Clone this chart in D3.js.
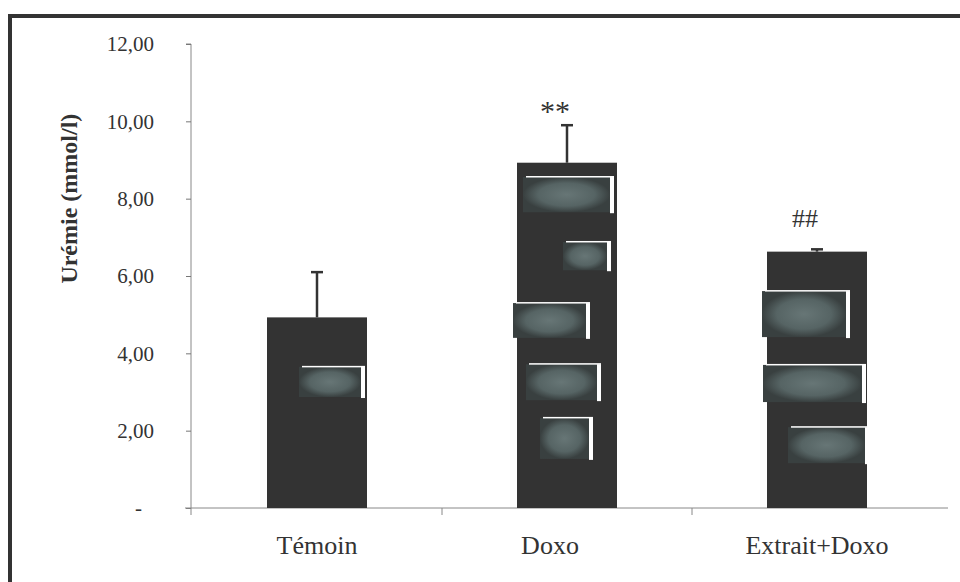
<!DOCTYPE html>
<html>
<head>
  <meta charset="utf-8">
  <title>Urémie</title>
  <script src="https://cdn.jsdelivr.net/npm/d3@7"></script>
  <style>
    body { margin: 0; background: #fff; }
    svg { display: block; }
  </style>
</head>
<body>
<script>
  // data
  var groupes = ["Témoin", "Doxo", "Extrait+Doxo"];
  var moyennes = [4.93, 8.93, 6.63];
  var ecarts = [1.17, 0.97, 0.06];
  var marques = ["", "**", "##"];
  var yTicks = [0, 2, 4, 6, 8, 10, 12];

  // grey patches that sit on the bars in the scanned figure (value range + share of bar width)
  var taches = [
    { g: "Témoin", v0: 2.87, v1: 3.65, f0: 0.32, f1: 0.94 },
    { g: "Doxo", v0: 7.65, v1: 8.56, f0: 0.06, f1: 0.93 },
    { g: "Doxo", v0: 6.15, v1: 6.88, f0: 0.46, f1: 0.90 },
    { g: "Doxo", v0: 4.40, v1: 5.30, f0: -0.04, f1: 0.69 },
    { g: "Doxo", v0: 2.79, v1: 3.72, f0: 0.09, f1: 0.80 },
    { g: "Doxo", v0: 1.27, v1: 2.33, f0: 0.23, f1: 0.72 },
    { g: "Extrait+Doxo", v0: 4.42, v1: 5.61, f0: -0.05, f1: 0.79 },
    { g: "Extrait+Doxo", v0: 2.74, v1: 3.70, f0: -0.04, f1: 0.95 },
    { g: "Extrait+Doxo", v0: 1.16, v1: 2.09, f0: 0.21, f1: 0.98 }
  ];

  var width = 960, height = 582;
  var axeX = 191;
  var serif = "'Liberation Serif', 'Times New Roman', serif";

  var svg = d3.select("body").append("svg").attr("width", width).attr("height", height);

  // cadre
  svg.append("rect")
    .attr("x", 10).attr("y", 16)
    .attr("width", 1000).attr("height", 700)
    .attr("fill", "none")
    .attr("stroke", "#333")
    .attr("stroke-width", 4);

  var xScale = d3.scaleBand().domain(groupes).range([192, 942]).padding(0);
  var yScale = d3.scaleLinear().domain([0, 12]).range([508, 44]);
  var bw = xScale.bandwidth() * 0.4;
  function barX(g) { return xScale(g) + (xScale.bandwidth() - bw) / 2; }

  // gradient for the patches
  var grad = svg.append("defs").append("radialGradient").attr("id", "tache");
  grad.append("stop").attr("offset", "0%").attr("stop-color", "#677676");
  grad.append("stop").attr("offset", "65%").attr("stop-color", "#566464");
  grad.append("stop").attr("offset", "100%").attr("stop-color", "#394040");

  // axe Y
  var axisy = d3.axisLeft(yScale)
    .tickValues(yTicks)
    .tickSize(5)
    .tickPadding(32)
    .tickFormat(function(d) { return d === 0 ? "-" : d.toFixed(2).replace(".", ","); });

  var gy = svg.append("g")
    .attr("transform", "translate(" + axeX + ",0)")
    .call(axisy);
  gy.select(".domain").attr("stroke", "#888").attr("d", "M-5," + yScale(12) + "H0V" + (yScale(0) + 7));
  gy.selectAll(".tick line").attr("stroke", "#777");
  gy.selectAll(".tick text")
    .attr("font-family", serif)
    .attr("font-size", "21px")
    .attr("fill", "#333")
    .attr("x", function(d) { return d === 0 ? -49 : -37; });

  svg.append("text")
    .attr("transform", "translate(69," + yScale(8) + ") rotate(-90)")
    .attr("text-anchor", "middle")
    .attr("dy", "0.35em")
    .attr("font-family", serif)
    .attr("font-weight", "bold")
    .attr("font-size", "24px")
    .attr("fill", "#333")
    .text("Urémie (mmol/l)");

  // axe X
  svg.append("line")
    .attr("x1", axeX - 6).attr("x2", 948)
    .attr("y1", yScale(0)).attr("y2", yScale(0))
    .attr("stroke", "#888");

  svg.selectAll(".sep")
    .data(groupes.slice(1))
    .enter().append("line")
    .attr("class", "sep")
    .attr("x1", function(d) { return xScale(d); })
    .attr("x2", function(d) { return xScale(d); })
    .attr("y1", yScale(0)).attr("y2", yScale(0) + 7)
    .attr("stroke", "#888");

  var axisx = d3.axisBottom(xScale).tickSize(0).tickPadding(28);
  var gx = svg.append("g")
    .attr("transform", "translate(0," + yScale(0) + ")")
    .call(axisx);
  gx.select(".domain").remove();
  gx.selectAll(".tick text")
    .attr("font-family", serif)
    .attr("font-size", "26px")
    .attr("fill", "#333");
  // the middle label sits a little left of its bar in the original
  gx.selectAll(".tick text").filter(function(d) { return d === "Doxo"; }).attr("dx", -17);

  // barres
  svg.selectAll(".barre")
    .data(groupes)
    .enter().append("rect")
    .attr("class", "barre")
    .attr("x", function(d) { return barX(d); })
    .attr("width", bw)
    .attr("y", function(d, i) { return yScale(moyennes[i]); })
    .attr("height", function(d, i) { return yScale(0) - yScale(moyennes[i]); })
    .attr("fill", "#333");

  // taches grises
  var t = svg.selectAll(".tache")
    .data(taches)
    .enter().append("g")
    .attr("class", "tache");
  t.append("rect")
    .attr("x", function(d) { return barX(d.g) + d.f0 * bw; })
    .attr("width", function(d) { return (d.f1 - d.f0) * bw; })
    .attr("y", function(d) { return yScale(d.v1); })
    .attr("height", function(d) { return yScale(d.v0) - yScale(d.v1); })
    .attr("fill", "url(#tache)");
  t.append("rect")
    .attr("x", function(d) { return barX(d.g) + d.f1 * bw; })
    .attr("width", 4)
    .attr("y", function(d) { return yScale(d.v1); })
    .attr("height", function(d) { return yScale(d.v0) - yScale(d.v1) + 1; })
    .attr("fill", "#fff");
  t.append("rect")
    .attr("x", function(d) { return barX(d.g) + d.f0 * bw + 3; })
    .attr("width", function(d) { return (d.f1 - d.f0) * bw + 1; })
    .attr("y", function(d) { return yScale(d.v1) - 1; })
    .attr("height", 1.5)
    .attr("fill", "#fff");

  // barres d'erreur
  var cx = function(d) { return xScale(d) + xScale.bandwidth() / 2; };
  svg.selectAll(".err")
    .data(groupes)
    .enter().append("line")
    .attr("class", "err")
    .attr("x1", cx).attr("x2", cx)
    .attr("y1", function(d, i) { return yScale(moyennes[i]); })
    .attr("y2", function(d, i) { return yScale(moyennes[i] + ecarts[i]); })
    .attr("stroke", "#333")
    .attr("stroke-width", 2.5);
  svg.selectAll(".cap")
    .data(groupes)
    .enter().append("line")
    .attr("class", "cap")
    .attr("x1", function(d) { return cx(d) - 6; })
    .attr("x2", function(d) { return cx(d) + 6; })
    .attr("y1", function(d, i) { return yScale(moyennes[i] + ecarts[i]); })
    .attr("y2", function(d, i) { return yScale(moyennes[i] + ecarts[i]); })
    .attr("stroke", "#333")
    .attr("stroke-width", 2.5);

  // significativité
  svg.selectAll(".marque")
    .data(groupes)
    .enter().append("text")
    .attr("class", "marque")
    .attr("x", function(d) { return cx(d) - 12; })
    .attr("y", function(d, i) {
      var top = yScale(moyennes[i] + ecarts[i]);
      return marques[i] === "**" ? top - 4 : top - 22;
    })
    .attr("text-anchor", "middle")
    .attr("font-family", serif)
    .attr("font-size", function(d, i) { return marques[i] === "**" ? "30px" : "26px"; })
    .attr("fill", "#333")
    .text(function(d, i) { return marques[i]; });
</script>
</body>
</html>
